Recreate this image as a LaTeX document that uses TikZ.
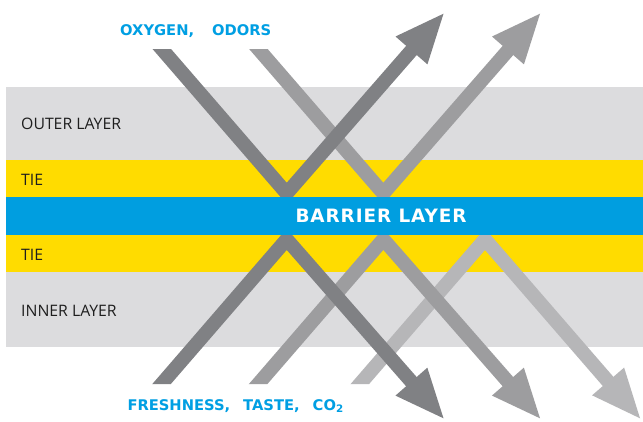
\documentclass[tikz,border=0pt]{standalone}
\usepackage{fontspec}
\setmainfont{Open Sans}
\newfontfamily\flowfont{DejaVu Sans}
\newfontfamily\barrierfont[LetterSpace=5]{DejaVu Sans}
\usepackage{xcolor}
\usetikzlibrary{arrows.meta}

\definecolor{bandgray}{HTML}{DCDCDE}
\definecolor{tieyellow}{HTML}{FFDC00}
\definecolor{barrierblue}{HTML}{009EE0}
\definecolor{flowblue}{HTML}{009FE3}
\definecolor{laytext}{HTML}{1E1E1E}
\definecolor{darkflow}{HTML}{808184}
\definecolor{midflow}{HTML}{9D9D9F}
\definecolor{lightflow}{HTML}{B6B6B8}

\begin{document}
\begin{tikzpicture}[x=1pt, y=-1pt, >={Triangle[length=51pt,width=38pt]},
  layertext/.style={anchor=base west, inner sep=0pt, text=laytext,
    font=\fontsize{15.8}{17}\selectfont},
  flowtext/.style={anchor=base west, inner sep=0pt, text=flowblue,
    font=\flowfont\fontsize{14.7}{17}\selectfont\bfseries},
  flow/.style={line width=14pt, line join=miter, ->}]
  \fill[white] (0,0) rectangle (643,421);
  \useasboundingbox (0,0) rectangle (643,421);

  % layers
  \fill[bandgray]   (6,87)  rectangle (643,160);
  \fill[tieyellow]  (6,160) rectangle (643,197);
  \fill[tieyellow]  (6,235) rectangle (643,272);
  \fill[bandgray]   (6,272) rectangle (643,347);

  % arrow ends
  \coordinate (o1s) at (154.0,40);  \coordinate (o1v) at (286.7,193.4); \coordinate (o1t) at (445,12);
  \coordinate (o2s) at (250.6,40);  \coordinate (o2v) at (383.3,193.4); \coordinate (o2t) at (541.5,12);
  \coordinate (f1s) at (153.8,393); \coordinate (f1v) at (286.7,239.3); \coordinate (f1t) at (445,420);
  \coordinate (f2s) at (250.4,393); \coordinate (f2v) at (383.3,239.3); \coordinate (f2t) at (541.5,420);
  \coordinate (f3s) at (352.1,393); \coordinate (f3v) at (485,239.3);   \coordinate (f3t) at (641.5,420);

  \begin{scope}
    \clip (0,49) -- (300,49) -- (300,0) -- (643,0) -- (643,421)
      -- (390,421) -- (390,384) -- (0,384) -- cycle;
    \draw[flow, lightflow] (f3s) -- (f3v) -- (f3t);
    \draw[flow, midflow]   (o2s) -- (o2v) -- (o2t);
    \draw[flow, midflow]   (f2s) -- (f2v) -- (f2t);
    \draw[flow, darkflow]  (o1s) -- (o1v) -- (o1t);
    \draw[flow, darkflow]  (f1s) -- (f1v) -- (f1t);
  \end{scope}

  \fill[barrierblue] (6,197) rectangle (643,235);

  % labels
  \node[layertext] (outer) at (21,129.3) {OUTER LAYER};
  \node[layertext] (tie1)  at (21,185.7) {TIE};
  \node[layertext] (tie2)  at (21,260)   {TIE};
  \node[layertext] (inner) at (21,316)   {INNER LAYER};
  \node[anchor=base, inner sep=0pt, text=white,
    font=\barrierfont\fontsize{18.4}{20}\selectfont\bfseries] (barrier) at (381,222.3) {BARRIER LAYER};
  \node[flowtext] (influx)  at (120,35.7) {OXYGEN,\hspace{18pt}ODORS};
  \node[flowtext] (outflux) at (127.3,410) {FRESHNESS,\hspace{13pt}TASTE,\hspace{13pt}CO\textsubscript{2}};
\end{tikzpicture}
\end{document}
